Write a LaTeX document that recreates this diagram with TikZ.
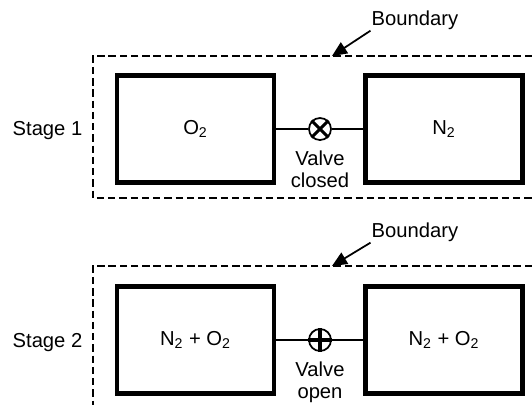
\documentclass[tikz,border=0pt]{standalone}
\usepackage{fontspec}
\setmainfont{Liberation Sans}
\usepackage{tikz}
\usetikzlibrary{positioning,arrows.meta}
\tikzset{
  tank/.style={rectangle,draw=black,line width=2.7pt,minimum width=3.14cm,
    minimum height=2.15cm,font=\fontsize{11.5}{13}\selectfont},
  valve/.style={circle,draw=black,line width=1pt,minimum size=4.4mm,inner sep=0pt},
  vmark/.style={line width=1.8pt},
  pipe/.style={line width=0.8pt},
  bnd/.style={dash pattern=on 4.2pt off 2.2pt,line width=0.9pt},
  ar/.style={-{Triangle[length=3mm,width=2.6mm]},line width=1pt},
  lbl/.style={font=\fontsize{11.5}{12.5}\selectfont,align=center},
}

\begin{document}
\begin{tikzpicture}
  \useasboundingbox (0,0) rectangle (10.64,-8.1);
  % stage 1
  \draw[bnd] (10.64,-1.12) -- (1.86,-1.12) -- (1.86,-3.96) -- (10.64,-3.96);
  \node[tank] (o2) at (3.91,-2.58) {O\textsubscript{2}};
  \node[tank] (n2) at (8.88,-2.58) {N\textsubscript{2}};
  \node[valve] (v1) at (6.40,-2.58) {};
  \draw[pipe] (o2.east) -- (v1) -- (n2.west);
  \draw[vmark] (v1.north west) -- (v1.south east) (v1.north east) -- (v1.south west);
  \node[lbl,below=0.8mm of v1] (v1lbl) {Valve\\closed};
  \node[lbl] (stage1) at (0.95,-2.62) {Stage 1};
  \node[lbl,inner sep=0.5pt] (bnd1) at (8.30,-0.40) {Boundary};
  \coordinate (tip1) at (6.64,-1.12);
  \draw[ar] (bnd1.south west) -- (tip1);
  % stage 2
  \draw[bnd] (10.64,-5.32) -- (1.86,-5.32) -- (1.86,-8.1);
  \node[tank] (mix1) at (3.91,-6.80) {N\textsubscript{2} + O\textsubscript{2}};
  \node[tank] (mix2) at (8.88,-6.80) {N\textsubscript{2} + O\textsubscript{2}};
  \node[valve] (v2) at (6.40,-6.80) {};
  \draw[pipe] (mix1.east) -- (v2) -- (mix2.west);
  \draw[vmark] (v2.north) -- (v2.south) (v2.west) -- (v2.east);
  \node[lbl,below=0.8mm of v2] (v2lbl) {Valve\\open};
  \node[lbl] (stage2) at (0.95,-6.86) {Stage 2};
  \node[lbl,inner sep=0.5pt] (bnd2) at (8.30,-4.64) {Boundary};
  \coordinate (tip2) at (6.64,-5.32);
  \draw[ar] (bnd2.south west) -- (tip2);
\end{tikzpicture}
\end{document}
